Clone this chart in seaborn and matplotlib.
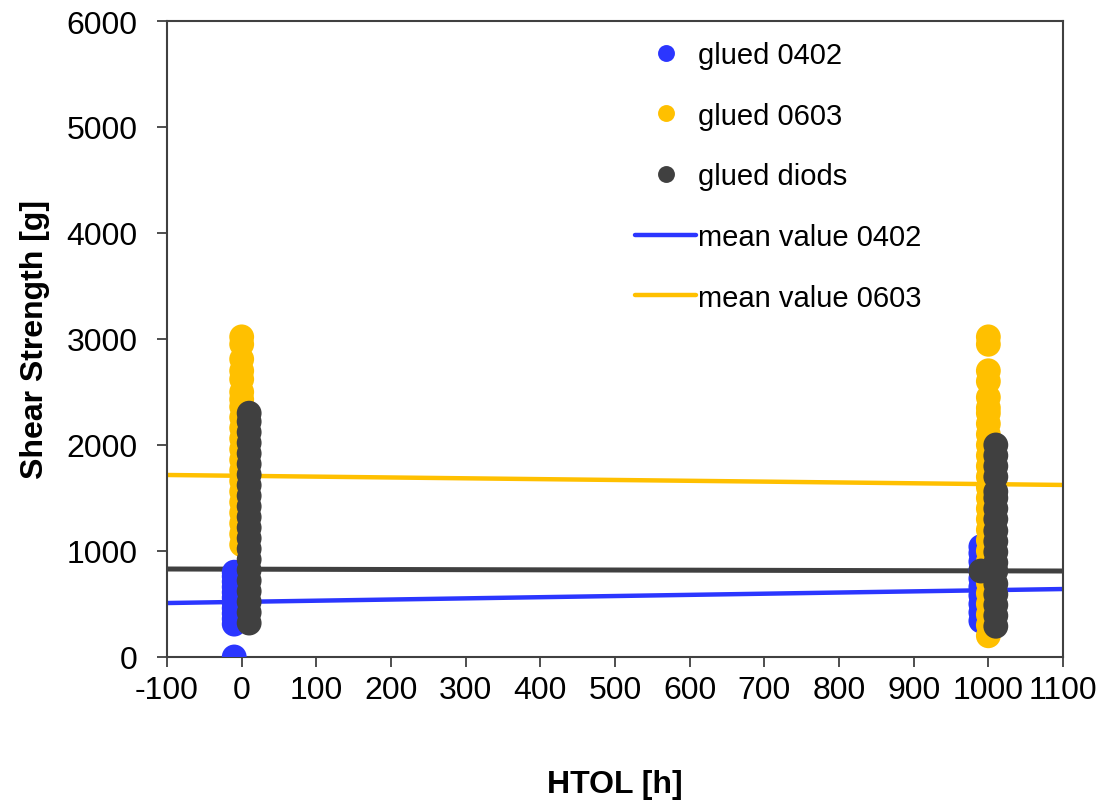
import matplotlib
matplotlib.use('Agg')
import matplotlib.pyplot as plt
import pandas as pd
import seaborn as sns

sns.set_theme(style='white')
plt.rcParams['font.family'] = ['Liberation Sans', 'DejaVu Sans']
plt.rcParams['axes.unicode_minus'] = False
plt.rcParams['text.color'] = 'black'
plt.rcParams['axes.labelcolor'] = 'black'

# HTOL Zeitpunkte (leicht versetzt je Bauteil)
x_0402_0 = -10
x_0603_0 = 0
x_diod_0 = 10
x_0402_1000 = 990
x_0603_1000 = 1000
x_diod_1000 = 1010

# Scherkraft [g]
s_0402_0 = [0, 310, 360, 410, 460, 510, 560, 610, 660, 710, 760, 800]
s_0603_0 = [1060, 1160, 1260, 1360, 1460, 1560, 1660, 1760, 1860, 1960, 2060,
            2160, 2260, 2360, 2430, 2500, 2620, 2700, 2810, 2950, 3020]
s_diod_0 = [320, 420, 520, 620, 720, 820, 920, 1020, 1120, 1220, 1320, 1420,
            1520, 1620, 1720, 1820, 1920, 2020, 2120, 2220, 2300]
s_0402_1000 = [340, 420, 500, 580, 660, 740, 820, 900, 980, 1040]
s_0603_1000 = [200, 300, 400, 500, 600, 700, 800, 900, 1000, 1100, 1200, 1300,
               1400, 1500, 1600, 1700, 1800, 1900, 2000, 2100, 2200, 2300,
               2350, 2450, 2600, 2700, 2950, 3020]
s_diod_1000 = [290, 390, 490, 590, 690, 811, 890, 990, 1090, 1190, 1300, 1400,
               1500, 1560, 1700, 1800, 1900, 2000]
s_diod_extra_x = [990]
s_diod_extra = [811]

# Trendlinien (Mittelwert) an den Achsenenden
line_x = [-100, 1100]
mean_0402 = [509, 641]
mean_0603 = [1717, 1623]
mean_diod = [830, 811]

groups = ['glued 0402', 'glued 0603', 'glued diods']
colors = {'glued 0402': '#2B36FF', 'glued 0603': '#FFC000', 'glued diods': '#404040'}

rows = []
for x, vals, g in [(x_0402_0, s_0402_0, groups[0]), (x_0402_1000, s_0402_1000, groups[0]),
                   (x_0603_0, s_0603_0, groups[1]), (x_0603_1000, s_0603_1000, groups[1]),
                   (x_diod_0, s_diod_0, groups[2]), (x_diod_1000, s_diod_1000, groups[2])]:
    for v in vals:
        rows.append({'HTOL': x, 'Shear': v, 'Typ': g})
for x, v in zip(s_diod_extra_x, s_diod_extra):
    rows.append({'HTOL': x, 'Shear': v, 'Typ': groups[2]})
df = pd.DataFrame(rows)

fig = plt.figure(figsize=(11.01, 8.03), dpi=100)
ax = fig.add_axes([0.1517, 0.1806, 0.8138, 0.792])

lines = pd.DataFrame({'HTOL': line_x * 3,
                      'Shear': mean_0402 + mean_0603 + mean_diod,
                      'Linie': ['mean value 0402'] * 2 + ['mean value 0603'] * 2 + ['mean diods'] * 2})
sns.lineplot(data=lines[lines['Linie'] == 'mean value 0402'], x='HTOL', y='Shear',
             color=colors['glued 0402'], lw=3.2, ax=ax, label='mean value 0402', zorder=1)
sns.lineplot(data=lines[lines['Linie'] == 'mean value 0603'], x='HTOL', y='Shear',
             color=colors['glued 0603'], lw=3.2, ax=ax, label='mean value 0603', zorder=1)
sns.lineplot(data=lines[lines['Linie'] == 'mean diods'], x='HTOL', y='Shear',
             color=colors['glued diods'], lw=3.6, ax=ax, legend=False, zorder=1)

sns.scatterplot(data=df, x='HTOL', y='Shear', hue='Typ', hue_order=groups,
                palette=colors, s=320, linewidth=0, alpha=1, ax=ax, zorder=3)

ax.set_xlim(-100, 1100)
ax.set_ylim(0, 6000)
ax.set_xticks(range(-100, 1101, 100))
ax.set_yticks(range(0, 6001, 1000))
ax.tick_params(axis='both', labelsize=23, direction='out', length=7, width=1.3,
               color='#404040', labelcolor='black', bottom=True, left=True)
ax.tick_params(axis='x', pad=6)
ax.tick_params(axis='y', pad=14)
for sp in ax.spines.values():
    sp.set_color('#404040')
    sp.set_linewidth(1.5)
ax.set_xlabel('HTOL [h]', fontsize=23, fontweight='bold', labelpad=46)
ax.set_ylabel('Shear Strength [g]', fontsize=23, fontweight='bold', labelpad=12)
ax.grid(False)

h, l = ax.get_legend_handles_labels()
order = [l.index(n) for n in groups + ['mean value 0402', 'mean value 0603']]
leg = ax.legend([h[i] for i in order], [l[i] for i in order], loc='upper left',
                bbox_to_anchor=(0.493, 1.01), frameon=False, fontsize=21,
                labelspacing=1.12, handlelength=2.1, handletextpad=0.05, markerscale=0.68)

fig.savefig('out.png', dpi=100)
